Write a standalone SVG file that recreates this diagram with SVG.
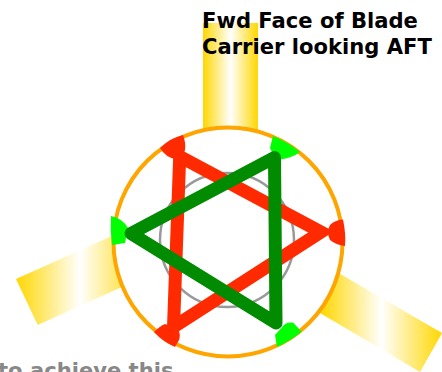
<svg xmlns="http://www.w3.org/2000/svg" width="442" height="372" viewBox="0 0 442 372">
<style>
.t{font-family:"DejaVu Sans",sans-serif;font-weight:bold;font-size:21.1px}
.red{fill:#ff2a00}.lime{fill:#00ff00}
.tri{fill:none;stroke-width:13}
</style>
<defs>
<linearGradient id="g1" gradientUnits="userSpaceOnUse" x1="203" y1="0" x2="258" y2="0"><stop offset="0" stop-color="#ffd700"/><stop offset=".5" stop-color="#fff"/><stop offset="1" stop-color="#ffd700"/></linearGradient>
<linearGradient id="g2" gradientUnits="userSpaceOnUse" x1="16" y1="0" x2="144" y2="0"><stop offset="0" stop-color="#ffd700"/><stop offset=".5" stop-color="#fff"/><stop offset="1" stop-color="#ffd700"/></linearGradient>
<linearGradient id="g3" gradientUnits="userSpaceOnUse" x1="321" y1="0" x2="442" y2="0"><stop offset="0" stop-color="#ffd700"/><stop offset=".5" stop-color="#fff"/><stop offset="1" stop-color="#ffd700"/></linearGradient>
</defs>
<g id="bars">
<rect x="203" y="23" width="55" height="110" fill="url(#g1)"/>
<polygon points="16,279 37.7,325 144,277 123,231" fill="url(#g2)"/>
<polygon points="303,303 323,264 442,333 420,372" fill="url(#g3)"/>
</g>
<g id="outer-ring"><circle cx="228" cy="242" r="114.5" fill="#fff" stroke="#ffa500" stroke-width="4"/></g>
<g id="inner-ring"><circle cx="227" cy="240" r="67" fill="none" stroke="#999" stroke-width="2.5"/></g>
<g id="red-triangle">
<polygon class="tri" points="179.700,156.600 321,232 173.500,327" stroke="#ff2a00" stroke-linejoin="miter"/>
<path class="red" d="M160,148 Q170,138 183,135 Q186,143 185,150 Q183,158 176,159 Q166,158 160,148Z"/>
<path class="red" d="M343,219.500 Q346,233 345,246 Q336,245 330,240 Q326,232 330,225 Q335,220 343,219.500Z"/>
<path class="red" d="M154,332 Q160,326 165,324 L178,329 Q181,335 179,340 L175,347 Q163,342 154,332Z"/>
</g>
<g id="green-triangle">
<path class="lime" d="M111,216 Q122,218 128,228 L125,243 L112,245 Q110,230 111,216Z"/>
<path class="lime" d="M273,136 Q288,142 300,152 Q292,158 280,159.500 Q274,158 270,148Z"/>
<path class="lime" d="M275,335 L285,324 Q289,322 293.300,322.700 L301.700,331.700 Q290,341 277,347Z"/>
<polygon class="tri" points="131,233.500 274.500,157.500 276,323" stroke="#008b00" stroke-linejoin="round"/>
</g>
<g id="labels">
<text class="t" x="202" y="28" fill="#000">Fwd Face of Blade</text>
<text class="t" x="202" y="53.500" fill="#000">Carrier looking AFT</text>
<text class="t" x="-2" y="377.500" fill="#888">to achieve this</text>
</g>
</svg>
